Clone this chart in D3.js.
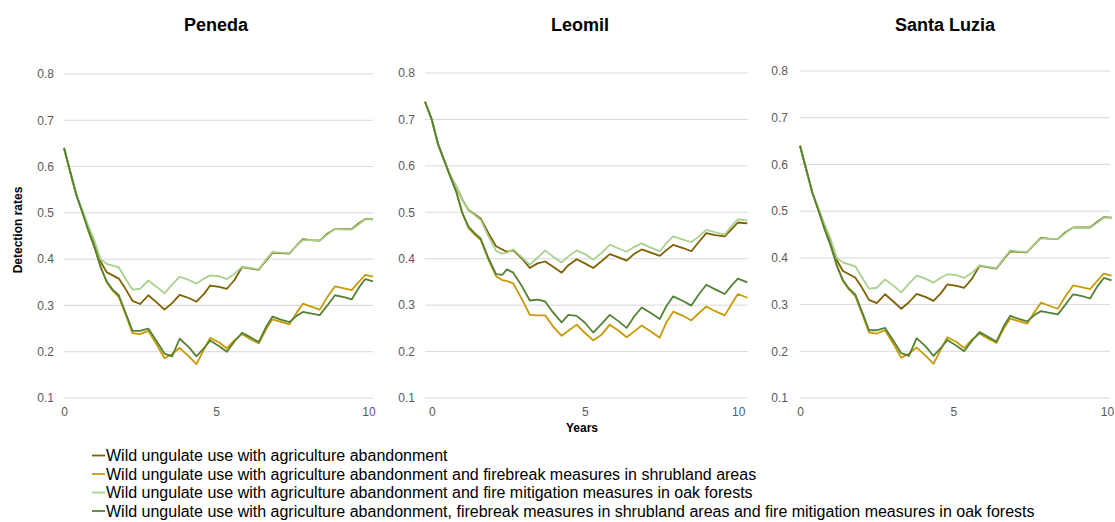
<!DOCTYPE html>
<html>
<head>
<meta charset="utf-8">
<script src="https://cdn.jsdelivr.net/npm/d3@7"></script>
<style>
  body { margin: 0; background: #ffffff; }
  svg { display: block; font-family: "Liberation Sans", Arial, sans-serif; }
</style>
</head>
<body>
<svg id="chart" width="1115" height="522"></svg>
<script>
// ---------------- DATA ----------------
const seriesNames = [
  "Wild ungulate use with agriculture abandonment",
  "Wild ungulate use with agriculture abandonment and firebreak measures in shrubland areas",
  "Wild ungulate use with agriculture abandonment and fire mitigation measures in oak forests",
  "Wild ungulate use with agriculture abandonment, firebreak measures in shrubland areas and fire mitigation measures in oak forests"
];
const seriesColors = ["#7F6000", "#C99A06", "#A9D18E", "#548235"];
const panelTitles = ["Peneda", "Leomil", "Santa Luzia"];
const yTicks = [0.1, 0.2, 0.3, 0.4, 0.5, 0.6, 0.7, 0.8];
const xTicks = [0, 5, 10];

// Peneda
const penedaYears = [0, 0.2, 0.4, 0.6, 0.8, 1.0, 1.2, 1.4, 1.6, 1.8, 2.0, 2.25, 2.5, 2.77, 3.05, 3.3, 3.55, 3.8, 4.1, 4.35, 4.6, 4.8, 5.1, 5.35, 5.6, 5.85, 6.1, 6.4, 6.65, 6.85, 7.1, 7.4, 7.65, 7.85, 8.1, 8.4, 8.65, 8.9, 9.2, 9.45, 9.7, 9.9, 10.15];
const penedaAgri = [0.64, 0.59, 0.54, 0.503, 0.468, 0.436, 0.395, 0.372, 0.365, 0.358, 0.338, 0.31, 0.303, 0.322, 0.306, 0.291, 0.305, 0.323, 0.316, 0.308, 0.325, 0.343, 0.34, 0.336, 0.355, 0.383, 0.38, 0.377, 0.398, 0.414, 0.413, 0.412, 0.43, 0.443, 0.441, 0.44, 0.455, 0.465, 0.465, 0.465, 0.478, 0.487, 0.486];
const penedaFirebreak = [0.64, 0.59, 0.54, 0.502, 0.462, 0.426, 0.385, 0.35, 0.332, 0.318, 0.285, 0.24, 0.238, 0.245, 0.215, 0.186, 0.195, 0.208, 0.19, 0.173, 0.205, 0.23, 0.22, 0.207, 0.225, 0.238, 0.228, 0.218, 0.25, 0.27, 0.265, 0.259, 0.285, 0.304, 0.298, 0.291, 0.318, 0.341, 0.337, 0.333, 0.352, 0.366, 0.362];
const penedaOak = [0.64, 0.59, 0.54, 0.507, 0.472, 0.44, 0.4, 0.39, 0.386, 0.382, 0.36, 0.334, 0.336, 0.354, 0.34, 0.326, 0.345, 0.362, 0.355, 0.347, 0.358, 0.365, 0.363, 0.357, 0.368, 0.384, 0.381, 0.378, 0.4, 0.416, 0.414, 0.413, 0.43, 0.441, 0.441, 0.44, 0.453, 0.465, 0.464, 0.464, 0.476, 0.486, 0.486];
const penedaAll = [0.64, 0.59, 0.54, 0.502, 0.462, 0.426, 0.383, 0.352, 0.334, 0.322, 0.288, 0.245, 0.245, 0.25, 0.222, 0.196, 0.19, 0.228, 0.21, 0.19, 0.208, 0.224, 0.212, 0.2, 0.222, 0.241, 0.232, 0.221, 0.255, 0.276, 0.27, 0.264, 0.278, 0.286, 0.283, 0.279, 0.3, 0.322, 0.318, 0.313, 0.34, 0.357, 0.352];

// Leomil
const leomilYears = [-0.22, 0, 0.2, 0.4, 0.6, 0.8, 1.0, 1.2, 1.4, 1.6, 1.85, 2.1, 2.3, 2.45, 2.66, 2.95, 3.2, 3.45, 3.7, 3.95, 4.24, 4.46, 4.73, 5.0, 5.27, 5.55, 5.81, 6.1, 6.36, 6.6, 6.85, 7.15, 7.44, 7.65, 7.88, 8.2, 8.47, 8.7, 8.96, 9.25, 9.56, 9.78, 9.99, 10.3];
const leomilAgri = [0.738, 0.70, 0.648, 0.613, 0.58, 0.555, 0.527, 0.505, 0.496, 0.486, 0.455, 0.427, 0.42, 0.415, 0.418, 0.4, 0.38, 0.39, 0.394, 0.383, 0.37, 0.386, 0.399, 0.39, 0.38, 0.395, 0.41, 0.403, 0.396, 0.41, 0.42, 0.413, 0.406, 0.418, 0.43, 0.423, 0.416, 0.435, 0.455, 0.451, 0.448, 0.463, 0.478, 0.476];
const leomilFirebreak = [0.738, 0.70, 0.648, 0.613, 0.578, 0.544, 0.498, 0.466, 0.452, 0.44, 0.398, 0.362, 0.354, 0.352, 0.347, 0.312, 0.279, 0.278, 0.278, 0.255, 0.234, 0.245, 0.258, 0.24, 0.224, 0.237, 0.258, 0.245, 0.231, 0.243, 0.256, 0.243, 0.23, 0.262, 0.286, 0.277, 0.267, 0.282, 0.297, 0.287, 0.278, 0.302, 0.324, 0.316];
const leomilOak = [0.738, 0.70, 0.648, 0.613, 0.58, 0.555, 0.527, 0.504, 0.494, 0.483, 0.448, 0.417, 0.411, 0.413, 0.42, 0.403, 0.387, 0.402, 0.418, 0.405, 0.392, 0.405, 0.418, 0.41, 0.398, 0.413, 0.43, 0.422, 0.415, 0.425, 0.433, 0.424, 0.416, 0.433, 0.448, 0.441, 0.436, 0.447, 0.462, 0.457, 0.452, 0.47, 0.485, 0.482];
const leomilAll = [0.738, 0.70, 0.648, 0.613, 0.578, 0.544, 0.498, 0.469, 0.455, 0.443, 0.401, 0.367, 0.365, 0.377, 0.37, 0.34, 0.31, 0.312, 0.308, 0.285, 0.263, 0.279, 0.277, 0.262, 0.241, 0.26, 0.279, 0.265, 0.251, 0.275, 0.295, 0.283, 0.27, 0.297, 0.319, 0.309, 0.299, 0.322, 0.344, 0.334, 0.324, 0.342, 0.357, 0.349];

// Santa Luzia
const santaLuziaYears = [0, 0.2, 0.4, 0.6, 0.8, 1.0, 1.2, 1.4, 1.6, 1.8, 2.0, 2.25, 2.5, 2.77, 3.05, 3.3, 3.55, 3.8, 4.1, 4.35, 4.6, 4.8, 5.1, 5.35, 5.6, 5.85, 6.1, 6.4, 6.65, 6.85, 7.1, 7.4, 7.65, 7.85, 8.1, 8.4, 8.65, 8.9, 9.2, 9.45, 9.7, 9.9, 10.15];
const santaLuziaAgri = [0.64, 0.59, 0.54, 0.503, 0.468, 0.436, 0.395, 0.372, 0.365, 0.358, 0.338, 0.31, 0.303, 0.322, 0.306, 0.291, 0.305, 0.323, 0.316, 0.308, 0.325, 0.343, 0.34, 0.336, 0.355, 0.383, 0.38, 0.377, 0.398, 0.414, 0.413, 0.412, 0.43, 0.443, 0.441, 0.44, 0.455, 0.465, 0.465, 0.465, 0.478, 0.487, 0.486];
const santaLuziaFirebreak = [0.64, 0.59, 0.54, 0.502, 0.462, 0.426, 0.385, 0.35, 0.332, 0.318, 0.285, 0.24, 0.238, 0.245, 0.215, 0.186, 0.195, 0.208, 0.19, 0.173, 0.205, 0.23, 0.22, 0.207, 0.225, 0.238, 0.228, 0.218, 0.25, 0.27, 0.265, 0.259, 0.285, 0.304, 0.298, 0.291, 0.318, 0.341, 0.337, 0.333, 0.352, 0.366, 0.362];
const santaLuziaOak = [0.64, 0.59, 0.54, 0.507, 0.472, 0.44, 0.4, 0.39, 0.386, 0.382, 0.36, 0.334, 0.336, 0.354, 0.34, 0.326, 0.345, 0.362, 0.355, 0.347, 0.358, 0.365, 0.363, 0.357, 0.368, 0.384, 0.381, 0.378, 0.4, 0.416, 0.414, 0.413, 0.43, 0.441, 0.441, 0.44, 0.453, 0.465, 0.464, 0.464, 0.476, 0.486, 0.486];
const santaLuziaAll = [0.64, 0.59, 0.54, 0.502, 0.462, 0.426, 0.383, 0.352, 0.334, 0.322, 0.288, 0.245, 0.245, 0.25, 0.222, 0.196, 0.19, 0.228, 0.21, 0.19, 0.208, 0.224, 0.212, 0.2, 0.222, 0.241, 0.232, 0.221, 0.255, 0.276, 0.27, 0.264, 0.278, 0.286, 0.283, 0.279, 0.3, 0.322, 0.318, 0.313, 0.34, 0.357, 0.352];

// ---------------- LAYOUT ----------------
const panels = [
  { title: panelTitles[0], years: penedaYears, series: [penedaAgri, penedaFirebreak, penedaOak, penedaAll],
    x0: 64, x1: 373, xDomain: [0, 10.15], yTop: 74, yBottom: 398, labelGap: 10, titleX: 216 },
  { title: panelTitles[1], years: leomilYears, series: [leomilAgri, leomilFirebreak, leomilOak, leomilAll],
    x0: 425, x1: 748, xDomain: [-0.22, 10.32], yTop: 73, yBottom: 398, labelGap: 10, titleX: 580 },
  { title: panelTitles[2], years: santaLuziaYears, series: [santaLuziaAgri, santaLuziaFirebreak, santaLuziaOak, santaLuziaAll],
    x0: 800, x1: 1110, xDomain: [0, 10.1], yTop: 71, yBottom: 398, labelGap: 12, titleX: 945 }
];

const svg = d3.select("#chart");

panels.forEach((p, pi) => {
  const x = d3.scaleLinear().domain(p.xDomain).range([p.x0, p.x1]);
  const y = d3.scaleLinear().domain([0.1, 0.8]).range([p.yBottom, p.yTop]);
  const g = svg.append("g");

  // gridlines
  g.append("g").selectAll("line").data(yTicks).join("line")
    .attr("x1", p.x0).attr("x2", p.x1)
    .attr("y1", d => y(d)).attr("y2", d => y(d))
    .attr("stroke", "#D9D9D9").attr("stroke-width", 1);

  // y axis labels
  const yAxis = d3.axisLeft(y).tickValues(yTicks).tickFormat(d3.format(".1f")).tickSize(0).tickPadding(p.labelGap);
  const ya = g.append("g").attr("transform", `translate(${p.x0},0)`).call(yAxis);
  ya.select(".domain").remove();
  ya.selectAll("text").attr("font-size", 12).attr("fill", "#595959")
    .attr("font-family", "Liberation Sans, Arial, sans-serif");

  // x axis labels
  const xAxis = d3.axisBottom(x).tickValues(xTicks).tickFormat(d3.format("d")).tickSize(0).tickPadding(9);
  const xa = g.append("g").attr("transform", `translate(0,${p.yBottom})`).call(xAxis);
  xa.select(".domain").remove();
  xa.selectAll("text").attr("font-size", 12).attr("fill", "#595959")
    .attr("font-family", "Liberation Sans, Arial, sans-serif");

  // lines
  const line = d3.line().x((d, i) => x(p.years[i])).y(d => y(d));
  p.series.forEach((vals, si) => {
    g.append("path").datum(vals)
      .attr("d", line)
      .attr("fill", "none")
      .attr("stroke", seriesColors[si])
      .attr("stroke-width", 1.8)
      .attr("stroke-linejoin", "round");
  });

  // title
  svg.append("text")
    .attr("x", p.titleX)
    .attr("y", 31)
    .attr("text-anchor", "middle")
    .attr("font-size", 18).attr("font-weight", "bold").attr("fill", "#000")
    .text(p.title);

  if (pi === 1) {
    svg.append("text")
      .attr("x", 582)
      .attr("y", 432)
      .attr("text-anchor", "middle")
      .attr("font-size", 12).attr("font-weight", "bold").attr("fill", "#000")
      .text("Years");
  }
});

// y-axis title
svg.append("text")
  .attr("transform", "translate(22,230) rotate(-90)")
  .attr("text-anchor", "middle")
  .attr("font-size", 12).attr("font-weight", "bold").attr("fill", "#000")
  .text("Detection rates");

// legend
const legendBaselines = [461, 479.5, 498, 516.5];
const legend = svg.append("g");
seriesNames.forEach((name, i) => {
  legend.append("line")
    .attr("x1", 92).attr("x2", 105)
    .attr("y1", legendBaselines[i] - 5.5).attr("y2", legendBaselines[i] - 5.5)
    .attr("stroke", seriesColors[i]).attr("stroke-width", 1.8);
  legend.append("text")
    .attr("x", 106).attr("y", legendBaselines[i])
    .attr("font-size", 16).attr("fill", "#000")
    .text(name);
});
</script>
</body>
</html>
